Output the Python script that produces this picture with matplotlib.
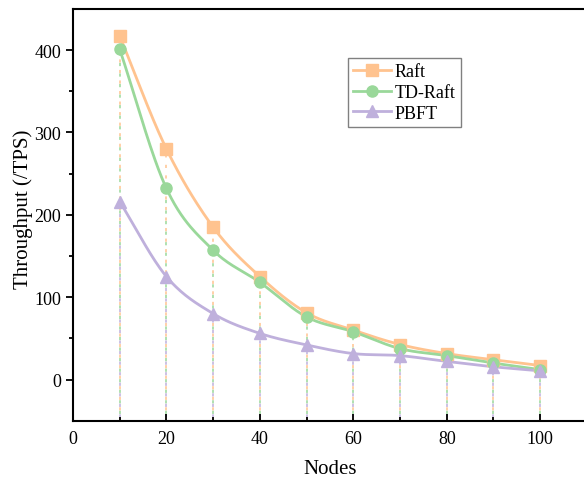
import numpy as np
import matplotlib.pyplot as plt

plt.rcParams['font.family'] = ['Liberation Serif', 'DejaVu Serif']

nodes = [10, 20, 30, 40, 50, 60, 70, 80, 90, 100]
raft = [417, 280, 185, 125, 81, 60, 42.5, 31.5, 24, 17]
td_raft = [401, 232, 157, 118, 76, 58, 37.5, 29, 20, 12]
pbft = [216, 125, 80, 56, 42, 31.5, 29, 22, 15.5, 10.5]

series = [
    ("Raft", raft, "#FFC38F", "s"),
    ("TD-Raft", td_raft, "#9AD89A", "o"),
    ("PBFT", pbft, "#BFB0DC", "^"),
]


def smooth(x, y, n=30):
    # catmull-rom curve through the points, just for drawing the line
    x = np.asarray(x, float)
    y = np.asarray(y, float)
    px = np.concatenate([[2 * x[0] - x[1]], x, [2 * x[-1] - x[-2]]])
    py = np.concatenate([[2 * y[0] - y[1]], y, [2 * y[-1] - y[-2]]])
    xs, ys = [], []
    t = np.linspace(0, 1, n)
    for i in range(1, len(px) - 2):
        for p, out in ((px, xs), (py, ys)):
            p0, p1, p2, p3 = p[i - 1], p[i], p[i + 1], p[i + 2]
            out.extend(0.5 * (2 * p1 + (-p0 + p2) * t
                              + (2 * p0 - 5 * p1 + 4 * p2 - p3) * t ** 2
                              + (-p0 + 3 * p1 - 3 * p2 + p3) * t ** 3))
    return xs, ys


fig = plt.figure(figsize=(5.84, 4.81), dpi=100)
ax = fig.add_axes([0.125, 0.1233, 0.88, 0.856])

# drop lines, dashes of the three series interleaved
for k, (name, vals, col, mk) in enumerate(series):
    for xv, yv in zip(nodes, vals):
        ax.plot([xv, xv], [-50, yv], color=col, linewidth=1.1,
                linestyle=(k * 2.3, (2.1, 4.8)), zorder=1)

for name, vals, col, mk in series:
    sx, sy = smooth(nodes, vals)
    ax.plot(sx, sy, color=col, linewidth=2, zorder=2)
    ax.plot(nodes, vals, linestyle="none", marker=mk, markersize=8, color=col, zorder=3)
    ax.plot([], [], color=col, linewidth=2, marker=mk, markersize=8, label=name)

ax.set_xlim(0, 110)
ax.set_ylim(-50, 450)
ax.set_xticks([0, 20, 40, 60, 80, 100])
ax.set_xticks(range(10, 110, 20), minor=True)
ax.set_yticks([0, 100, 200, 300, 400])
ax.set_yticks([50, 150, 250, 350], minor=True)
ax.tick_params(axis='x', which='both', direction='in', labelsize=13, pad=7)
ax.tick_params(axis='y', which='both', direction='out', labelsize=13)
ax.tick_params(which='major', length=5, width=1.3)
ax.tick_params(which='minor', length=3, width=1.3)
for s in ax.spines.values():
    s.set_linewidth(1.5)

ax.set_xlabel("Nodes", fontsize=15, labelpad=8)
ax.set_ylabel("Throughput (/TPS)", fontsize=15)
ax.yaxis.set_label_coords(-0.078, 0.517)

leg = ax.legend(loc='upper left', bbox_to_anchor=(0.535, 0.881), fontsize=13,
                fancybox=False, edgecolor='#808080', framealpha=1,
                handlelength=2.1, borderpad=0.3, labelspacing=0.2,
                handletextpad=0.2, borderaxespad=0)
leg.get_frame().set_linewidth(1.0)

fig.savefig("out.png", dpi=100)
